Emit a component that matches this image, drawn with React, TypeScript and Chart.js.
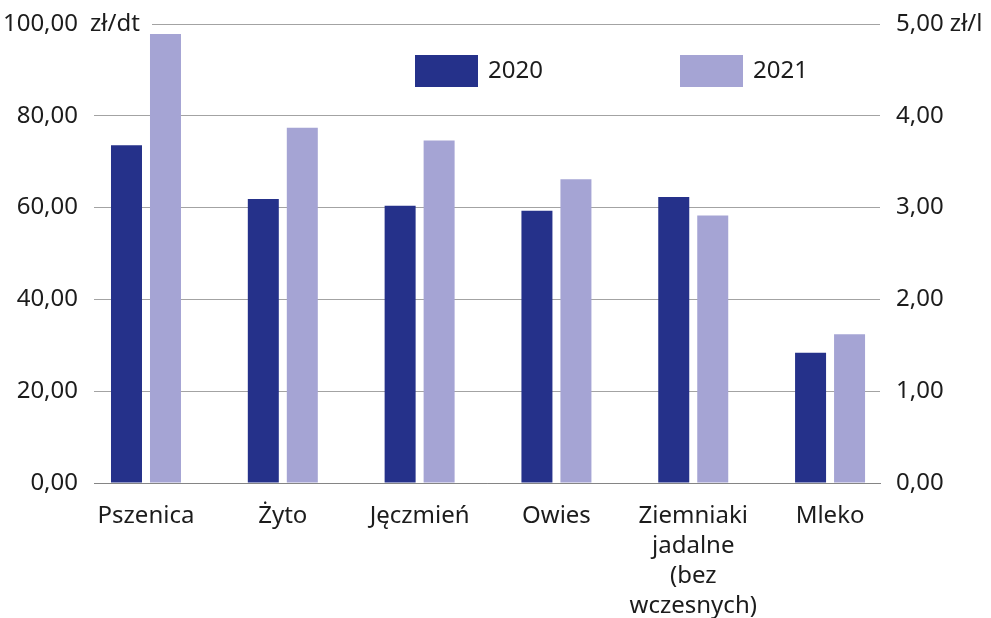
import React, { useEffect, useRef } from "react";
import { Chart, registerables } from "chart.js";

Chart.register(...registerables);

const categories: (string | string[])[] = [
  "Pszenica",
  "Żyto",
  "Jęczmień",
  "Owies",
  ["Ziemniaki", "jadalne", "(bez", "wczesnych)"],
  "Mleko",
];
const seriesLabels = ["2020", "2021"];
// zł/dt (left axis) for the first five categories
const grain2020 = [73.6, 61.9, 60.4, 59.3, 62.3];
const grain2021 = [97.8, 77.4, 74.6, 66.2, 58.3];
// zł/l (right axis) for Mleko
const milk2020 = 1.42;
const milk2021 = 1.62;
const leftTicks = [0, 20, 40, 60, 80, 100];
const rightTicks = [0, 1, 2, 3, 4, 5];
const leftUnit = "zł/dt";
const rightUnit = "zł/l";

const COLOR_2020 = "#25318a";
const COLOR_2021 = "#a5a4d4";
const FONT = "'Noto Sans', 'Open Sans', sans-serif";
const TEXT = "#1c1c1c";
const GRID = "#a3a3a3";
const CLEAR = "rgba(0,0,0,0)";

const fmt = (v: number) => v.toFixed(2).replace(".", ",");

export default function App() {
  const ref = useRef<HTMLCanvasElement | null>(null);

  useEffect(() => {
    if (!ref.current) return;
    const milkIndex = categories.length - 1;

    const overlay = {
      id: "overlay",
      afterDraw(chart: any) {
        const { ctx, chartArea, scales } = chart;
        const yTop = scales.y.getPixelForValue(leftTicks[leftTicks.length - 1]);
        ctx.save();
        // top gridline (starts after the unit text)
        ctx.strokeStyle = GRID;
        ctx.lineWidth = 1;
        ctx.beginPath();
        ctx.moveTo(chartArea.left + 58, Math.round(yTop) + 0.5);
        ctx.lineTo(chartArea.right, Math.round(yTop) + 0.5);
        ctx.stroke();
        // unit text for left axis
        ctx.font = `24px ${FONT}`;
        ctx.fillStyle = TEXT;
        ctx.textBaseline = "middle";
        ctx.textAlign = "left";
        ctx.fillText(leftUnit, chartArea.left - 4, yTop);
        // legend
        const items = [
          { label: seriesLabels[0], color: COLOR_2020, x: chartArea.left + 321 },
          { label: seriesLabels[1], color: COLOR_2021, x: chartArea.left + 586 },
        ];
        const top = 55;
        for (const it of items) {
          ctx.fillStyle = it.color;
          ctx.fillRect(it.x, top, 63, 32);
          ctx.fillStyle = TEXT;
          ctx.fillText(it.label, it.x + 73, top + 16);
        }
        ctx.restore();
      },
    };

    const chart = new Chart(ref.current, {
      type: "bar",
      data: {
        datasets: [
          {
            label: seriesLabels[0],
            data: grain2020.map((y, i) => ({ x: i, y })),
            backgroundColor: COLOR_2020,
            yAxisID: "y",
            skipNull: true,
          } as any,
          {
            label: seriesLabels[1],
            data: grain2021.map((y, i) => ({ x: i, y })),
            backgroundColor: COLOR_2021,
            yAxisID: "y",
            skipNull: true,
          } as any,
          {
            label: seriesLabels[0] + " Mleko",
            data: [{ x: milkIndex, y: milk2020 }],
            backgroundColor: COLOR_2020,
            yAxisID: "y1",
            skipNull: true,
          } as any,
          {
            label: seriesLabels[1] + " Mleko",
            data: [{ x: milkIndex, y: milk2021 }],
            backgroundColor: COLOR_2021,
            yAxisID: "y1",
            skipNull: true,
          } as any,
        ],
      },
      options: {
        animation: false,
        responsive: true,
        maintainAspectRatio: false,
        layout: { padding: { top: 24, left: 0, right: 0, bottom: 0 } },
        datasets: {
          bar: { categoryPercentage: 0.57, barPercentage: 0.795 },
        } as any,
        plugins: {
          legend: { display: false },
          tooltip: { enabled: false },
        },
        scales: {
          x: {
            type: "linear",
            offset: false,
            min: -0.38,
            max: 5.365,
            grid: { display: false, offset: false },
            border: { display: true, color: "#858585", width: 1 },
            afterFit: (s: any) => {
              s.height = 135;
            },
            ticks: {
              stepSize: 1,
              includeBounds: false,
              autoSkip: false,
              maxRotation: 0,
              minRotation: 0,
              padding: 10,
              color: TEXT,
              font: { family: FONT, size: 24, lineHeight: 1.25 },
              callback: (v: any) => categories[Math.round(v as number)] ?? "",
            },
          } as any,
          y: {
            position: "left",
            min: leftTicks[0],
            max: leftTicks[leftTicks.length - 1],
            afterFit: (s: any) => {
              s.width = 94;
            },
            afterBuildTicks: (s: any) => {
              s.ticks = leftTicks.map((value) => ({ value }));
            },
            grid: {
              drawTicks: true,
              tickLength: 16,
              tickColor: CLEAR,
              lineWidth: 1,
              color: (c: any) =>
                c.tick && c.tick.value === leftTicks[leftTicks.length - 1] ? CLEAR : GRID,
            },
            border: { display: false },
            ticks: {
              padding: 0,
              color: TEXT,
              font: { family: FONT, size: 24 },
              callback: (v: any) => fmt(v as number),
            },
          } as any,
          y1: {
            position: "right",
            min: rightTicks[0],
            max: rightTicks[rightTicks.length - 1],
            afterFit: (s: any) => {
              s.width = 111;
            },
            afterBuildTicks: (s: any) => {
              s.ticks = rightTicks.map((value) => ({ value }));
            },
            grid: {
              display: true,
              drawOnChartArea: false,
              drawTicks: true,
              tickLength: 16,
              tickColor: CLEAR,
              color: CLEAR,
            },
            border: { display: false },
            ticks: {
              padding: 0,
              color: TEXT,
              font: { family: FONT, size: 24 },
              callback: (v: any) =>
                v === rightTicks[rightTicks.length - 1] ? `${fmt(v)} ${rightUnit}` : fmt(v as number),
            },
          } as any,
        },
      },
      plugins: [overlay],
    });

    return () => chart.destroy();
  }, []);

  return (
    <div style={{ position: "fixed", left: 0, top: 0, width: 991, height: 618, background: "#fff" }}>
      <canvas ref={ref} />
    </div>
  );
}
